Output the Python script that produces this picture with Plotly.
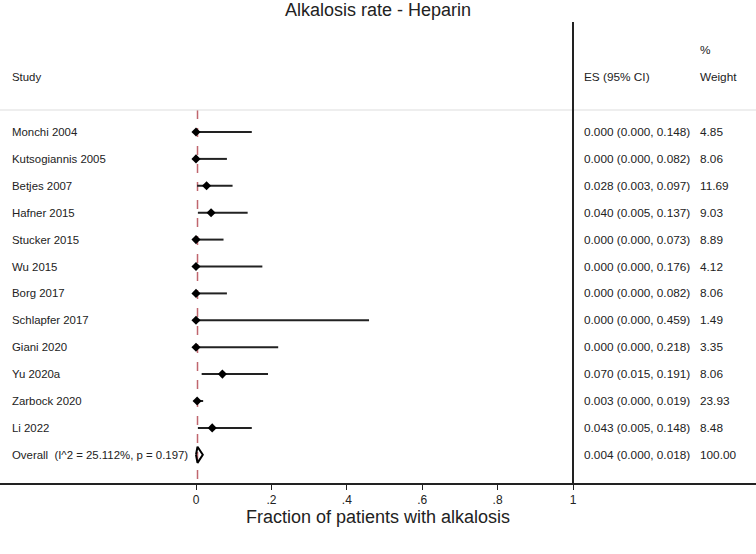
import plotly.graph_objects as go

studies = ["Monchi 2004", "Kutsogiannis 2005", "Betjes 2007", "Hafner 2015", "Stucker 2015",
           "Wu 2015", "Borg 2017", "Schlapfer 2017", "Giani 2020", "Yu 2020a",
           "Zarbock 2020", "Li 2022"]
es = [0.000, 0.000, 0.028, 0.040, 0.000, 0.000, 0.000, 0.000, 0.000, 0.070, 0.003, 0.043]
lo = [0.000, 0.000, 0.003, 0.005, 0.000, 0.000, 0.000, 0.000, 0.000, 0.015, 0.000, 0.005]
hi = [0.148, 0.082, 0.097, 0.137, 0.073, 0.176, 0.082, 0.459, 0.218, 0.191, 0.019, 0.148]
weights = ["4.85", "8.06", "11.69", "9.03", "8.89", "4.12", "8.06", "1.49", "3.35", "8.06", "23.93", "8.48"]

overall_label = "Overall  (I^2 = 25.112%, p = 0.197)"
overall_es, overall_lo, overall_hi = 0.004, 0.000, 0.018
overall_weight = "100.00"

tick_vals = [0, 0.2, 0.4, 0.6, 0.8, 1]
tick_text = ["0", ".2", ".4", ".6", ".8", "1"]

W, H = 756, 554
x0_px, x1_px = 196, 573
ppu = (x1_px - x0_px)
xr = [-x0_px / ppu, (W - x0_px) / ppu]
top_px, bot_px = 22, 483
row0_px, row_step = 132, 26.9
yr = [(bot_px - row0_px) / row_step, (top_px - row0_px) / row_step]

def xpx(p):
    return (p - x0_px) / ppu

def ypx(p):
    return (p - row0_px) / row_step

FAM = "Liberation Sans, Arial, sans-serif"
font_l = dict(family=FAM, size=11.4, color="#222")
font_r = dict(family=FAM, size=11.8, color="#222")

fig = go.Figure()

# CI lines
for i in range(len(studies)):
    fig.add_trace(go.Scatter(x=[lo[i], hi[i]], y=[i, i], mode="lines",
                             line=dict(color="#222", width=2), hoverinfo="skip", showlegend=False))
fig.add_trace(go.Scatter(x=es, y=list(range(len(studies))), mode="markers",
                         marker=dict(symbol="diamond", size=7, color="black"),
                         showlegend=False))

n = len(studies)
# Overall diamond
dh = 0.3
fig.add_trace(go.Scatter(x=[overall_lo, overall_es, overall_hi, overall_es, overall_lo],
                         y=[n, n - dh, n, n + dh, n], mode="lines",
                         line=dict(color="black", width=2), showlegend=False))

# overall dashed line
fig.add_shape(type="line", x0=overall_es, x1=overall_es, y0=ypx(110), y1=yr[0],
              line=dict(color="#c0666e", width=1.5, dash="dash"), layer="below")
# faint separator
fig.add_shape(type="line", x0=xr[0], x1=xr[1], y0=ypx(110), y1=ypx(110),
              line=dict(color="#dddddd", width=1), layer="below")
# vertical line at 1
fig.add_shape(type="line", x0=1, x1=1, y0=yr[1], y1=yr[0],
              line=dict(color="#222", width=2))

ES_X, WT_X = 582, 698
ann = []
for i, s in enumerate(studies):
    ann.append(dict(x=xpx(10), y=i, text=s, xanchor="left", showarrow=False, font=font_l))
    ann.append(dict(x=xpx(ES_X), y=i, text=f"{es[i]:.3f} ({lo[i]:.3f}, {hi[i]:.3f})",
                    xanchor="left", showarrow=False, font=font_r))
    ann.append(dict(x=xpx(WT_X), y=i, text=weights[i], xanchor="left", showarrow=False, font=font_r))
ann.append(dict(x=xpx(10), y=n, text=overall_label, xanchor="left", showarrow=False, font=font_l))
ann.append(dict(x=xpx(ES_X), y=n, text=f"{overall_es:.3f} ({overall_lo:.3f}, {overall_hi:.3f})",
                xanchor="left", showarrow=False, font=font_r))
ann.append(dict(x=xpx(WT_X), y=n, text=overall_weight, xanchor="left", showarrow=False, font=font_r))
ann.append(dict(x=xpx(10), y=ypx(77), text="Study", xanchor="left", showarrow=False, font=font_l))
ann.append(dict(x=xpx(ES_X), y=ypx(77), text="ES (95% CI)", xanchor="left", showarrow=False, font=font_r))
ann.append(dict(x=xpx(WT_X), y=ypx(77), text="Weight", xanchor="left", showarrow=False, font=font_r))
ann.append(dict(x=xpx(WT_X), y=ypx(50), text="%", xanchor="left", showarrow=False, font=font_r))

fig.update_layout(
    width=W, height=H,
    margin=dict(l=0, r=0, t=top_px, b=H - bot_px),
    paper_bgcolor="white", plot_bgcolor="white",
    title=dict(text="Alkalosis rate - Heparin", x=0.5, xanchor="center",
               y=1 - 10 / H, yanchor="middle",
               font=dict(family=FAM, size=18, color="#222")),
    annotations=ann,
    xaxis=dict(range=xr, tickvals=tick_vals, ticktext=tick_text, showgrid=False, zeroline=False,
               showline=True, linecolor="#222", linewidth=1.5, ticks="outside", ticklen=5,
               tickcolor="#222", tickfont=dict(family=FAM, size=12, color="#222"),
               title=dict(text="Fraction of patients with alkalosis", standoff=0,
                          font=dict(family=FAM, size=18, color="#222"))),
    yaxis=dict(range=yr, showgrid=False, zeroline=False, showticklabels=False, showline=False),
    showlegend=False,
)

fig.write_html("out.html", config={"displayModeBar": False},
               post_script="document.body.style.margin='0';document.body.style.overflow='hidden';")
